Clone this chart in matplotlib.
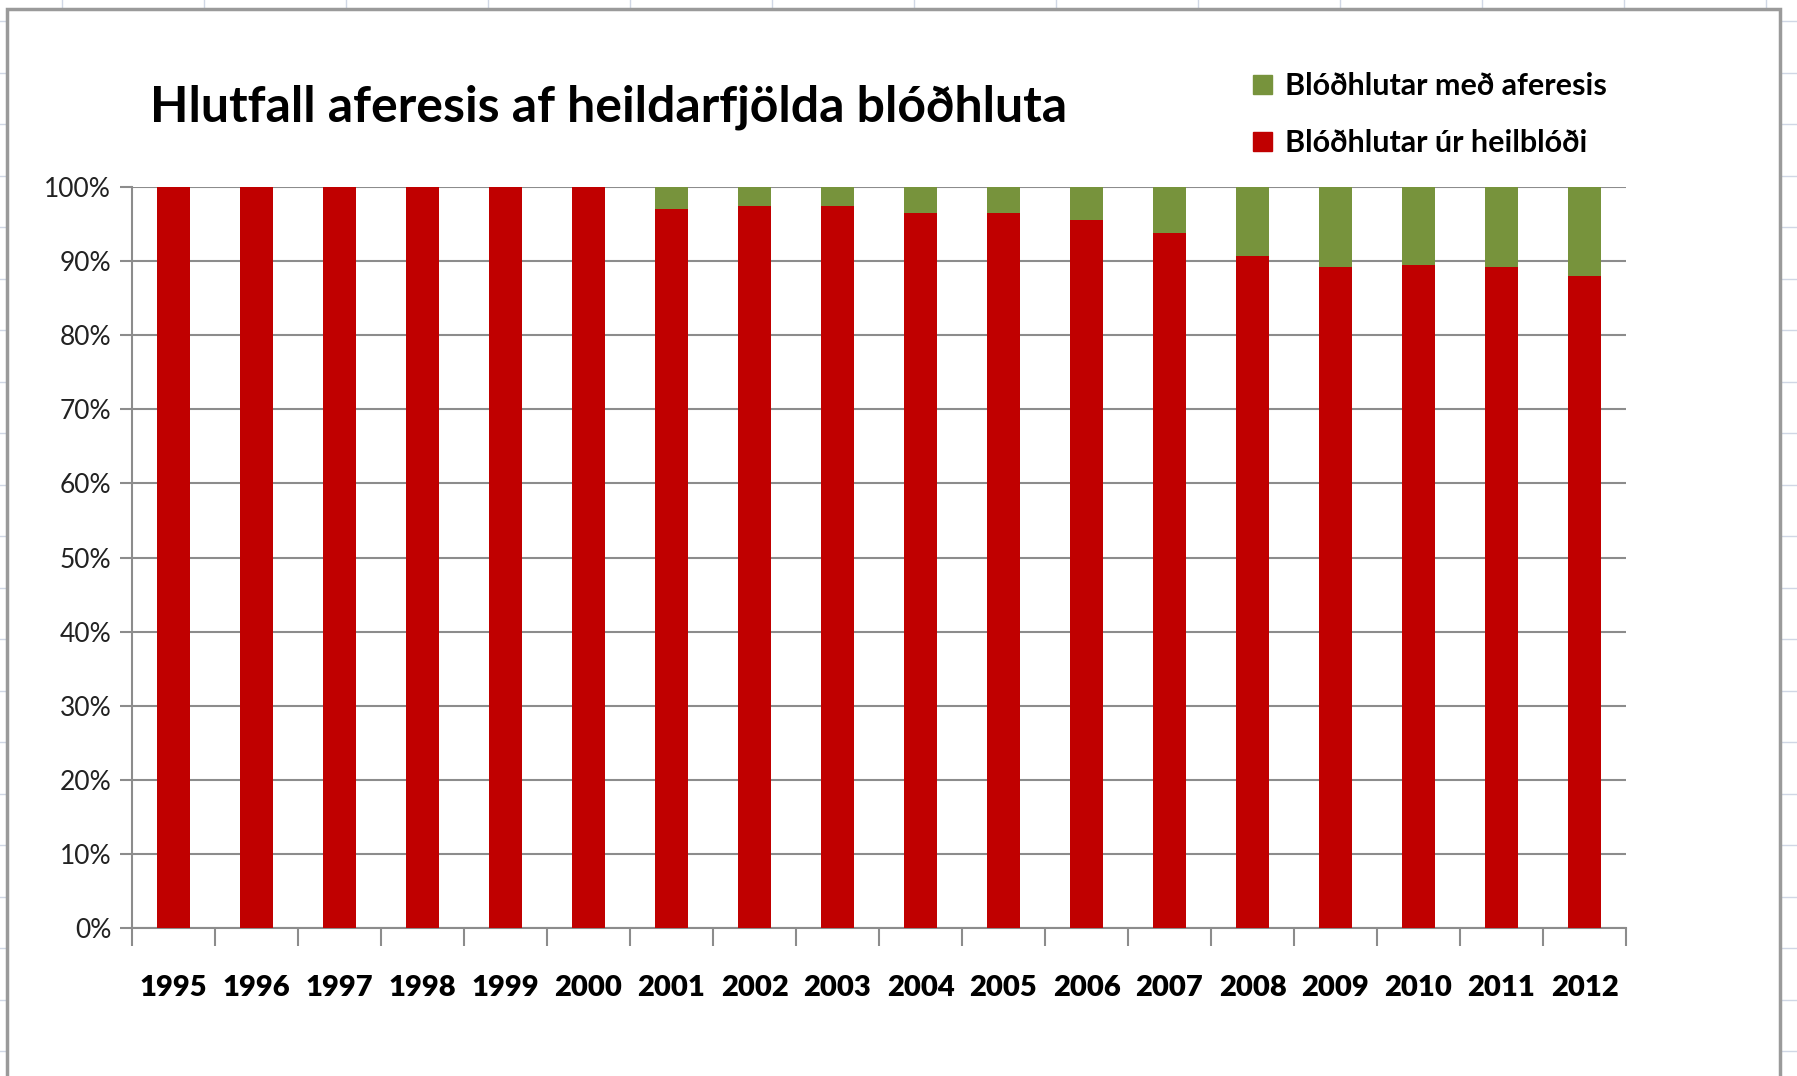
import matplotlib.pyplot as plt
from matplotlib.patches import Rectangle, Patch
from matplotlib.lines import Line2D
from matplotlib.ticker import PercentFormatter, FixedLocator

# Ár og hlutföll (lesið af myndinni)
years = ["1995", "1996", "1997", "1998", "1999", "2000", "2001", "2002", "2003",
         "2004", "2005", "2006", "2007", "2008", "2009", "2010", "2011", "2012"]
heilblod = [1.000, 1.000, 1.000, 1.000, 1.000, 1.000, 0.970, 0.974, 0.974,
            0.965, 0.965, 0.955, 0.938, 0.907, 0.892, 0.895, 0.892, 0.880]
aferesis = [round(1 - v, 3) for v in heilblod]

label_aferesis = "Blóðhlutar með aferesis"
label_heilblod = "Blóðhlutar úr heilblóði"
title = "Hlutfall aferesis af heildarfjölda blóðhluta"

red = "#C00000"
green = "#77933C"
grid_gray = "#8C8C8C"

W, H = 1797, 1076
fig = plt.figure(figsize=(W / 100, H / 100), dpi=100)
plt.rcParams["font.family"] = ["Lato", "DejaVu Sans"]

# Excel-töflureitir í bakgrunni
for x in range(62, W, 142):
    fig.add_artist(Line2D([x / W, x / W], [0, 1], color="#D0D7E5", lw=1, zorder=-3))
y = 21
while y < H:
    fig.add_artist(Line2D([0, 1], [1 - y / H, 1 - y / H], color="#D0D7E5", lw=1, zorder=-3))
    y += 51.5

# Rammi grafsins
fig.add_artist(Rectangle((7 / W, -0.05), (1780 - 7) / W, 1.05 - 9 / H,
                         transform=fig.transFigure, facecolor="white",
                         edgecolor="#9A9A9A", lw=2.5, zorder=-2))

ax = fig.add_axes([132 / W, 148 / H, (1626 - 132) / W, (928 - 187) / H])
ax.set_facecolor("none")
x = range(len(years))
ax.bar(x, heilblod, width=0.4, color=red, zorder=3)
ax.bar(x, aferesis, width=0.4, bottom=heilblod, color=green, zorder=3)

ax.set_xlim(-0.5, len(years) - 0.5)
ax.set_ylim(0, 1)
ax.yaxis.set_major_locator(FixedLocator([i / 10 for i in range(11)]))
ax.yaxis.set_major_formatter(PercentFormatter(1.0, decimals=0))
ax.grid(axis="y", color=grid_gray, lw=1.5, zorder=0)
ax.set_xticks(list(x))
ax.set_xticklabels(years, fontsize=21, fontweight="heavy")
ax.set_xticks([i - 0.5 for i in range(len(years) + 1)], minor=True)
ax.tick_params(axis="x", which="major", length=0, pad=34)
ax.tick_params(axis="x", which="minor", length=13, width=1.5, color=grid_gray)
ax.tick_params(axis="y", length=9, width=1.5, color=grid_gray, labelsize=19,
               pad=6, labelcolor="#222222")
for s in ["top", "right"]:
    ax.spines[s].set_visible(False)
for s in ["left", "bottom"]:
    ax.spines[s].set_color(grid_gray)
    ax.spines[s].set_linewidth(1.5)

fig.text(150 / W, 1 - 107 / H, title, fontsize=36, fontweight="bold",
         ha="left", va="center")

handles = [Patch(color=green, label=label_aferesis),
           Patch(color=red, label=label_heilblod)]
fig.legend(handles=handles, loc="upper left", bbox_to_anchor=(1238 / W, 1 - 57 / H),
           frameon=False, prop={"size": 22, "weight": "bold"},
           handlelength=0.6, handleheight=0.6, handletextpad=0.45,
           labelspacing=0.95, borderpad=0)

fig.savefig("out.png", dpi=100)
